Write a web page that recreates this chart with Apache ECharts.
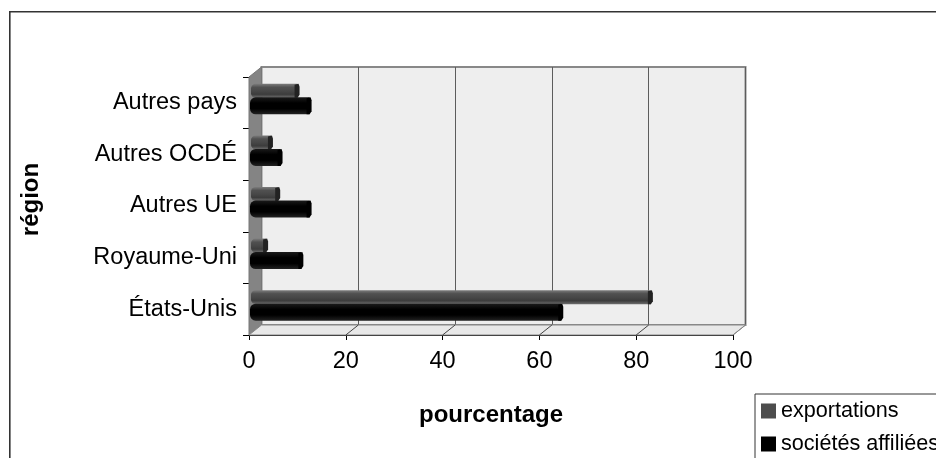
<!DOCTYPE html>
<html>
<head>
<meta charset="utf-8">
<style>html,body{margin:0;padding:0;background:#fff}#c{width:936px;height:458px}</style>
<script src="https://cdn.jsdelivr.net/npm/echarts@6/dist/echarts.min.js"></script>
</head>
<body>
<div id="c"></div>
<script>
// Share of activity by region, bottom to top on the category axis.
const categories = ['États-Unis', 'Royaume-Uni', 'Autres UE', 'Autres OCDÉ', 'Autres pays'];
const exportations = [82, 2.5, 5, 3.5, 9];
const societes = [64, 10.3, 12, 6, 12];
const xTicks = [0, 20, 40, 60, 80, 100];

const FONT = '"Liberation Sans", Arial, sans-serif';
const front = { left: 249, top: 77, right: 733, bottom: 335 };
const depth = { x: 12.5, y: 10 };
const wall = {
  left: front.left + depth.x, top: front.top - depth.y,
  right: front.right + depth.x, bottom: front.bottom - depth.y
};

// One horizontal tube: shaded body, rounded start and a darker end cap.
function tube(colors, capColor, startDx, tipDx, centerOffset, thick) {
  return function (params, api) {
    const base = api.coord([0, api.value(1)]);
    const tip = api.coord([api.value(0), api.value(1)]);
    const x0 = base[0] + startDx;
    const x1 = tip[0] + tipDx;
    const y0 = base[1] + centerOffset - thick / 2;
    return {
      type: 'group',
      children: [
        {
          type: 'rect',
          shape: { x: x0, y: y0, width: x1 - x0, height: thick, r: [thick / 3, 0, 0, thick / 3] },
          style: {
            fill: {
              type: 'linear', x: 0, y: 0, x2: 0, y2: 1,
              colorStops: colors.map((c, i) => ({ offset: i / (colors.length - 1), color: c }))
            }
          }
        },
        {
          type: 'polygon',
          shape: {
            points: [
              [x1 - 3, y0 + 1], [x1 + 1, y0], [x1 + 2, y0 + 3],
              [x1 + 2, y0 + thick - 3], [x1, y0 + thick], [x1 - 3, y0 + thick]
            ]
          },
          style: { fill: capColor }
        }
      ]
    };
  };
}

const sx = (front.right - front.left) / 100;

// Outer frame, side wall, floor and the diagonal tick marks across the floor.
const scenery = [
  {
    type: 'rect', z: -1, silent: true,
    shape: { x: 9.8, y: 11.8, width: 1000, height: 1000 },
    style: { fill: '#fff', stroke: '#333', lineWidth: 1.6 }
  },
  {
    type: 'polygon', z: 1, silent: true,
    shape: { points: [[front.left, front.top], [wall.left, wall.top], [wall.left, wall.bottom], [front.left, front.bottom]] },
    style: { fill: '#848484', stroke: '#777', lineWidth: 1 }
  },
  {
    type: 'polygon', z: 1, silent: true,
    shape: { points: [[front.left, front.bottom], [wall.left, wall.bottom], [wall.right, wall.bottom], [front.right, front.bottom]] },
    style: { fill: '#e8e8e8', stroke: '#888', lineWidth: 1 }
  }
].concat(xTicks.slice(1).map(t => ({
  type: 'line', z: 1, silent: true,
  shape: { x1: front.left + t * sx, y1: front.bottom, x2: wall.left + t * sx, y2: wall.bottom },
  style: { stroke: t === 100 ? '#888' : '#444', lineWidth: 1 }
})));

const chart = echarts.init(document.getElementById('c'), null, { renderer: 'canvas' });
chart.setOption({
  animation: false,
  backgroundColor: '#fff',
  textStyle: { fontFamily: FONT },
  graphic: { elements: scenery },
  grid: [
    { left: front.left, top: front.top, width: front.right - front.left, height: front.bottom - front.top, z: 3 },
    {
      left: wall.left, top: wall.top, width: wall.right - wall.left, height: wall.bottom - wall.top,
      show: true, backgroundColor: '#eeeeee', borderColor: '#888', borderWidth: 2, z: 0
    }
  ],
  xAxis: [
    {
      type: 'value', gridIndex: 0, min: 0, max: 100, interval: 20,
      name: 'pourcentage', nameLocation: 'middle', nameGap: 68,
      nameTextStyle: { fontFamily: FONT, fontSize: 24, fontWeight: 'bold', color: '#000' },
      axisLine: { show: true, lineStyle: { color: '#000', width: 1 } },
      axisTick: { show: true, length: 5, lineStyle: { color: '#000' } },
      axisLabel: { fontFamily: FONT, fontSize: 23.5, color: '#000', margin: 15 },
      splitLine: { show: false }
    },
    {
      type: 'value', gridIndex: 1, min: 0, max: 100, interval: 20,
      axisLine: { show: false }, axisTick: { show: false }, axisLabel: { show: false },
      splitLine: { show: true, lineStyle: { color: '#5c5c5c', width: 1 } }
    }
  ],
  yAxis: [
    {
      type: 'category', gridIndex: 0, data: categories,
      name: 'région', nameLocation: 'middle', nameGap: 206, nameRotate: 90,
      nameTextStyle: { fontFamily: FONT, fontSize: 24, fontWeight: 'bold', color: '#000', padding: [0, 0, 0, 13] },
      axisLine: { show: true, lineStyle: { color: '#000', width: 1 } },
      axisTick: { show: true, length: 6, lineStyle: { color: '#000' } },
      axisLabel: { fontFamily: FONT, fontSize: 23.5, color: '#000', margin: 12 },
      splitLine: { show: false }
    },
    {
      type: 'category', gridIndex: 1, data: categories, show: false
    }
  ],
  legend: {
    orient: 'vertical', left: 755, top: 394, height: 200,
    data: ['exportations', 'sociétés affiliées'],
    backgroundColor: '#fff', borderColor: '#333', borderWidth: 1,
    padding: [6, 6, 30, 6], itemGap: 11, itemWidth: 15, itemHeight: 15,
    icon: 'rect', textStyle: { fontFamily: FONT, fontSize: 21.6, color: '#000', padding: [0, 0, 3, 0] }
  },
  series: [
    {
      name: 'exportations', type: 'custom', xAxisIndex: 0, yAxisIndex: 0, z: 4,
      clip: false, itemStyle: { color: '#4d4d4d' },
      encode: { x: 0, y: 1 },
      data: exportations.map((v, i) => [v, i]),
      renderItem: tube(['#7c7c7c', '#505050', '#484848', '#3c3c3c', '#6e6e6e'], '#222', 2, 5, -12, 14)
    },
    {
      name: 'sociétés affiliées', type: 'custom', xAxisIndex: 0, yAxisIndex: 0, z: 5,
      clip: false, itemStyle: { color: '#000' },
      encode: { x: 0, y: 1 },
      data: societes.map((v, i) => [v, i]),
      renderItem: tube(['#1a1a1a', '#000', '#000', '#222'], '#000', 1, 2.5, 3, 17)
    }
  ]
});
</script>
</body>
</html>
